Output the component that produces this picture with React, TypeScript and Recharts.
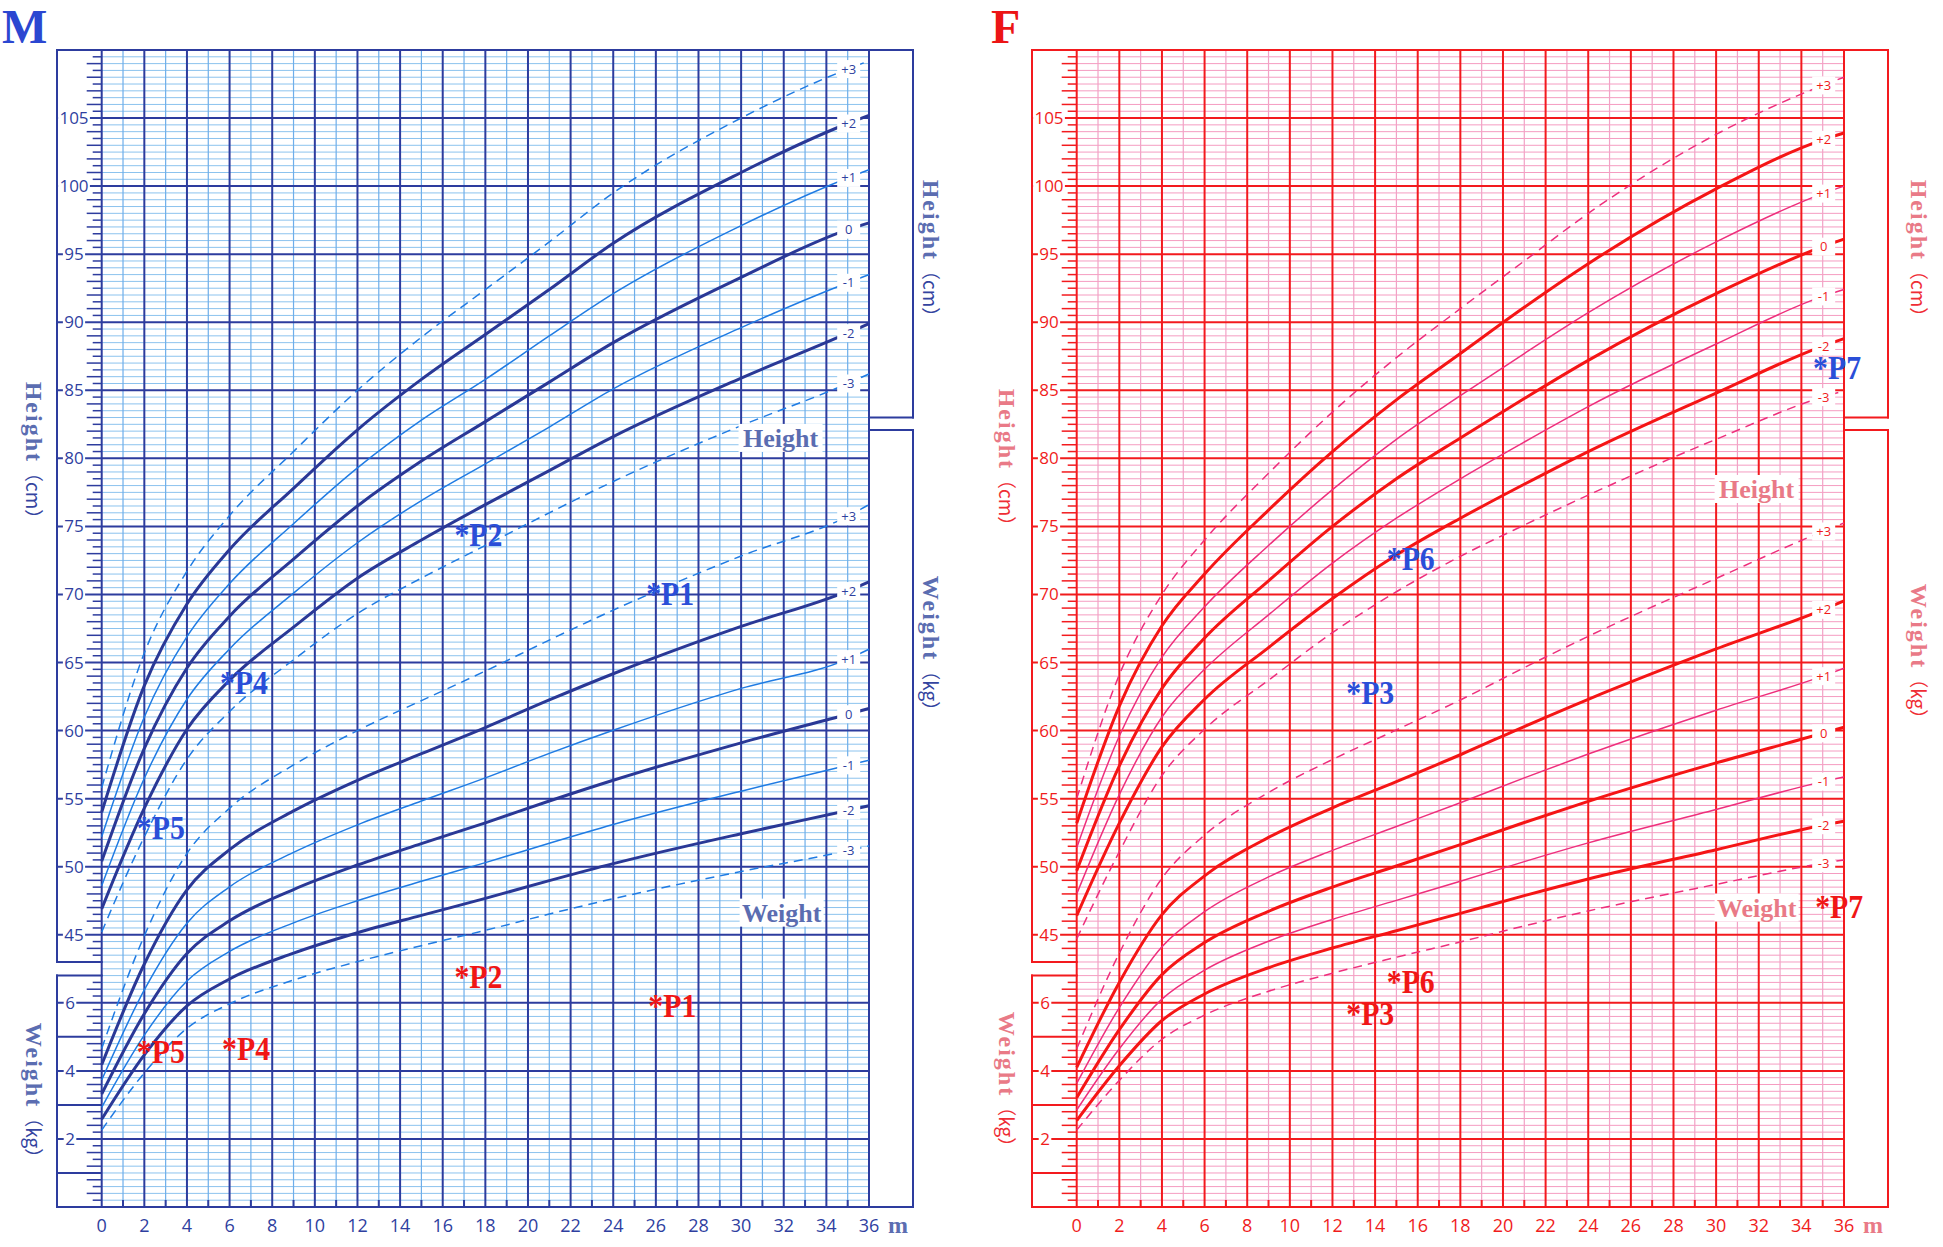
import React from 'react';
import { ComposedChart, Line, XAxis, YAxis, CartesianGrid, ReferenceLine, ReferenceDot } from 'recharts';

// ---------------- data ----------------
const MONTHS = [0, 2, 4, 6, 9, 12, 15, 18, 21, 24, 30, 35, 36];
const SD_LABELS = ['-3', '-2', '-1', '0', '+1', '+2', '+3'];
const SD_LABEL_MONTH = 35;

const BOY_HEIGHT = [
  [45.2, 52.2, 57.9, 61.4, 65.2, 68.6, 71.2, 73.6, 76.0, 78.3, 82.4, 85.5, 86.2],
  [46.9, 54.3, 60.1, 63.7, 67.6, 71.2, 74.0, 76.6, 79.1, 81.6, 85.9, 89.2, 89.9],
  [48.6, 56.5, 62.3, 66.0, 70.1, 73.8, 76.9, 79.6, 82.3, 85.1, 89.6, 92.9, 93.5],
  [50.4, 58.7, 64.6, 68.4, 72.6, 76.5, 79.8, 82.7, 85.6, 88.5, 93.3, 96.8, 97.3],
  [52.2, 61.0, 66.9, 70.8, 75.2, 79.3, 82.8, 85.8, 89.0, 92.1, 97.1, 100.6, 101.2],
  [54.0, 63.3, 69.3, 73.3, 77.8, 82.1, 85.8, 89.1, 92.4, 95.8, 101.0, 104.6, 105.2],
  [55.8, 65.7, 71.7, 75.8, 80.5, 85.0, 88.9, 92.4, 95.9, 99.5, 105.0, 108.6, 109.2],
];
const BOY_WEIGHT = [
  [2.26, 3.94, 5.25, 5.97, 6.67, 7.21, 7.68, 8.13, 8.61, 9.06, 9.86, 10.47, 10.61],
  [2.58, 4.47, 5.91, 6.70, 7.46, 8.06, 8.57, 9.07, 9.59, 10.09, 10.97, 11.65, 11.79],
  [2.93, 5.05, 6.64, 7.51, 8.35, 9.00, 9.57, 10.12, 10.69, 11.24, 12.22, 12.98, 13.13],
  [3.32, 5.68, 7.45, 8.41, 9.33, 10.05, 10.68, 11.29, 11.93, 12.54, 13.64, 14.48, 14.65],
  [3.73, 6.38, 8.34, 9.41, 10.42, 11.23, 11.93, 12.61, 13.33, 14.01, 15.24, 16.10, 16.39],
  [4.18, 7.14, 9.32, 10.50, 11.64, 12.54, 13.32, 14.09, 14.90, 15.67, 17.06, 18.10, 18.37],
  [4.66, 7.97, 10.39, 11.72, 12.99, 14.00, 14.88, 15.75, 16.66, 17.54, 19.13, 20.30, 20.64],
];
const GIRL_HEIGHT = [
  [44.7, 51.1, 56.7, 60.1, 63.7, 67.2, 70.2, 72.8, 75.1, 77.3, 81.4, 84.5, 84.95],
  [46.4, 53.2, 58.8, 62.3, 66.1, 69.7, 72.9, 75.6, 78.1, 80.5, 84.8, 88.25, 88.8],
  [48.0, 55.3, 61.0, 64.5, 68.5, 72.3, 75.6, 78.5, 81.2, 83.8, 88.4, 91.9, 92.4],
  [49.7, 57.4, 63.1, 66.8, 71.0, 75.0, 78.5, 81.5, 84.4, 87.2, 92.1, 95.55, 96.1],
  [51.4, 59.6, 65.4, 69.1, 73.6, 77.7, 81.4, 84.6, 87.7, 90.7, 95.9, 99.45, 100.0],
  [53.2, 61.8, 67.7, 71.5, 76.2, 80.5, 84.3, 87.7, 91.1, 94.3, 99.8, 103.4, 103.9],
  [55.0, 64.1, 70.0, 74.0, 78.9, 83.4, 87.4, 91.0, 94.5, 98.0, 103.8, 107.4, 108.0],
];
const GIRL_WEIGHT = [
  [2.26, 3.72, 4.93, 5.64, 6.34, 6.87, 7.34, 7.79, 8.26, 8.70, 9.48, 10.10, 10.20],
  [2.54, 4.15, 5.48, 6.26, 7.03, 7.61, 8.12, 8.63, 9.15, 9.64, 10.50, 11.22, 11.34],
  [2.85, 4.65, 6.11, 6.96, 7.81, 8.45, 9.01, 9.57, 10.15, 10.70, 11.68, 12.50, 12.64],
  [3.21, 5.21, 6.83, 7.77, 8.69, 9.40, 10.02, 10.65, 11.30, 11.92, 13.05, 13.92, 14.10],
  [3.63, 5.86, 7.65, 8.68, 9.70, 10.48, 11.18, 11.88, 12.61, 13.31, 14.60, 15.60, 15.83],
  [4.10, 6.60, 8.59, 9.73, 10.86, 11.73, 12.50, 13.29, 14.12, 14.92, 16.40, 17.55, 17.81],
  [4.65, 7.46, 9.66, 10.93, 12.18, 13.15, 14.02, 14.90, 15.85, 16.77, 18.47, 19.85, 20.10],
];

const BOY_HEIGHT_POINTS = [
  { name: 'P5', month: 2.0, value: 53.2 },
  { name: 'P4', month: 5.9, value: 63.9 },
  { name: 'P2', month: 16.9, value: 74.7 },
  { name: 'P1', month: 25.9, value: 70.4 },
];
const BOY_WEIGHT_POINTS = [
  { name: 'P5', month: 2.0, value: 4.7 },
  { name: 'P4', month: 6.0, value: 4.8 },
  { name: 'P2', month: 16.9, value: 6.9 },
  { name: 'P1', month: 26.0, value: 6.04 },
];
const GIRL_HEIGHT_POINTS = [
  { name: 'P3', month: 13.0, value: 63.1 },
  { name: 'P6', month: 14.9, value: 73.0 },
  { name: 'P7', month: 34.9, value: 87.0 },
];
const GIRL_WEIGHT_POINTS = [
  { name: 'P3', month: 13.0, value: 5.83 },
  { name: 'P6', month: 14.9, value: 6.77 },
  { name: 'P7', month: 35.0, value: 8.96 },
];

const MONTH_TICKS = Array.from({ length: 37 }, (_, i) => i);
const HEIGHT_LABELS_LEFT = [45, 50, 55, 60, 65, 70, 75, 80, 85, 90, 95, 100, 105];
const HEIGHT_LABELS_RIGHT = [85, 90, 95, 100, 105];
const WEIGHT_LABELS_LEFT = [2, 4, 6];
const WEIGHT_LABELS_RIGHT = [2, 4, 6, 8, 10, 12, 14, 16, 18, 20, 22];

// ---------------- layout ----------------
const PANEL_W = 968;
const PANEL_H = 1247;
const AXIS_H = 40;
const LEFT_AXIS_W = 44.7;
const RIGHT_AXIS_W = 44;
const MARGIN = { top: 10, right: PANEL_W - 869 - RIGHT_AXIS_W, bottom: 0, left: 57 };
const PLOT_LEFT = MARGIN.left + LEFT_AXIS_W;
const PLOT_RIGHT = PANEL_W - MARGIN.right - RIGHT_AXIS_W;
const PX_PER_MONTH = (PLOT_RIGHT - PLOT_LEFT) / 36;
const BOX_L = -LEFT_AXIS_W / PX_PER_MONTH;
const BOX_R = 36 + RIGHT_AXIS_W / PX_PER_MONTH;
const W_MAX = 34;
const LEFT_H_BOTTOM = 7.2;
const LEFT_W_TOP = 6.8;
const RIGHT_H_BOTTOM = 23.2;
const RIGHT_W_TOP = 22.83;

// grid positions in weight units (0.2 kg = 0.5 cm)
const STEPS = Array.from({ length: 169 }, (_, i) => i + 1);
const MINOR_Y = STEPS.filter((k) => k % 10 !== 0).map((k) => k / 5);
const MAJOR_Y = STEPS.filter((k) => k % 10 === 0).map((k) => k / 5);
const ODD_MONTHS = MONTH_TICKS.filter((m) => m % 2 === 1);
const EVEN_MONTHS = MONTH_TICKS.filter((m) => m % 2 === 0);
const LEFT_TICKS = STEPS.filter((k) => k <= 33 || k >= 37).map((k) => k / 5);
const RIGHT_TICKS = STEPS.filter((k) => k <= 113 || k >= 117).map((k) => k / 5);

type Theme = {
  major: string; minorH: string; minorV: string; thick: string; thin: string;
  text: string; word: string; unit: string; letter: string;
};
const BOY_THEME: Theme = {
  major: '#2d3c9e', minorH: '#8cc3ee', minorV: '#6eaeea', thick: '#2a3896', thin: '#1f7be3',
  text: '#2f3f9f', word: '#5b6db1', unit: '#34449f', letter: '#2b47d1',
};
const GIRL_THEME: Theme = {
  major: '#f31a1e', minorH: '#f59cc1', minorV: '#f2a2c6', thick: '#f51515', thin: '#ee2f7c',
  text: '#f01c1c', word: '#e97a87', unit: '#ef2d35', letter: '#ec1515',
};
const BLUE_MARK = '#2a4ed8';
const RED_MARK = '#f01616';
const SANS = "'Open Sans', 'DejaVu Sans', sans-serif";
const SERIF = "'Liberation Serif', 'DejaVu Serif', serif";

function boxLabel(x1: number, x2: number, y: number, text: string, tx: number, color: string) {
  const w = text.length * 9.6 + 3;
  return (
    <g>
      <line x1={x1} x2={x2} y1={y} y2={y} stroke={color} strokeWidth={2} />
      <rect x={tx - w / 2} y={y - 9} width={w} height={18} fill="#fff" />
      <text x={tx} y={y + 6} textAnchor="middle" fontFamily={SANS} fontSize={17} fill={color}>{text}</text>
    </g>
  );
}

const makeLeftTick = (t: Theme) => (props: any) => {
  const { y, payload } = props;
  const x = PLOT_LEFT;
  const k = Math.round(payload.value * 5);
  const boxL = x - LEFT_AXIS_W;
  if (k >= 37) {
    const h = 25 + k / 2;
    if (HEIGHT_LABELS_LEFT.includes(h)) return boxLabel(boxL, x, y, String(h), boxL + 17, t.text);
    const len = k % 2 === 0 ? 15 : 9;
    return <line x1={x - len} x2={x} y1={y} y2={y} stroke={t.major} strokeWidth={1.5} />;
  }
  const w = k / 5;
  if (WEIGHT_LABELS_LEFT.includes(w)) return boxLabel(boxL, x, y, String(w), boxL + 13, t.text);
  if (k % 5 === 0) return <line x1={boxL} x2={x} y1={y} y2={y} stroke={t.major} strokeWidth={2} />;
  const len = k % 2 === 0 ? 15 : 9;
  return <line x1={x - len} x2={x} y1={y} y2={y} stroke={t.major} strokeWidth={1.5} />;
};

const makeRightTick = (t: Theme) => (props: any) => {
  const { y, payload } = props;
  const x = PLOT_RIGHT;
  const k = Math.round(payload.value * 5);
  const boxR = x + RIGHT_AXIS_W;
  if (k >= 117) {
    const h = 25 + k / 2;
    if (HEIGHT_LABELS_RIGHT.includes(h)) return boxLabel(x, boxR, y, String(h), x + 25, t.text);
    const len = k % 2 === 0 ? 15 : 8;
    return <line x1={x} x2={x + len} y1={y} y2={y} stroke={t.major} strokeWidth={1.5} />;
  }
  const w = k / 5;
  if (WEIGHT_LABELS_RIGHT.includes(w)) return boxLabel(x, boxR, y, String(w), x + 25, t.text);
  if (k % 5 === 0) return <line x1={x} x2={boxR} y1={y} y2={y} stroke={t.major} strokeWidth={2} />;
  const len = k % 2 === 0 ? 15 : 8;
  return <line x1={x} x2={x + len} y1={y} y2={y} stroke={t.major} strokeWidth={1.5} />;
};

const makeTopTick = (t: Theme) => (props: any) => {
  const { x, y, payload } = props;
  const v = payload.value;
  if (v % 2 === 1) return <line x1={x} x2={x} y1={y} y2={y + 7} stroke={t.major} strokeWidth={2} />;
  return (
    <g>
      <text x={x} y={y - 11} textAnchor="middle" fontFamily={SANS} fontSize={18} fill={t.text}>{v}</text>
      {v === 36 && (
        <text x={x + 29} y={y - 12} textAnchor="middle" fontFamily={SERIF} fontWeight="bold" fontSize={24} fill={t.word}>m</text>
      )}
    </g>
  );
};

const makeBottomTick = (t: Theme) => (props: any) => {
  const { x, y, payload } = props;
  const v = payload.value;
  if (v % 2 === 1) return <line x1={x} x2={x} y1={y} y2={y - 7} stroke={t.major} strokeWidth={2} />;
  return (
    <g>
      <text x={x} y={y + 25} textAnchor="middle" fontFamily={SANS} fontSize={18} fill={t.text}>{v}</text>
      {v === 36 && (
        <text x={x + 29} y={y + 26} textAnchor="middle" fontFamily={SERIF} fontWeight="bold" fontSize={24} fill={t.word}>m</text>
      )}
    </g>
  );
};

const sdLabel = (sd: string, color: string, vals: number[]) => (props: any) => {
  const idx = props.index;
  const at = MONTHS.indexOf(SD_LABEL_MONTH);
  const hit = idx !== undefined ? idx === at : props.value === vals[at];
  if (!hit) return null;
  const x = props.x ?? props.viewBox?.x;
  const y = props.y ?? props.viewBox?.y;
  return (
    <g>
      <rect x={x - 10.5} y={y - 9} width={23} height={18} fill="#fff" />
      <text x={x + 1} y={y + 4.5} textAnchor="middle" fontFamily={SANS} fontSize={13} fill={color}>{sd}</text>
    </g>
  );
};

const pointDot = (color: string) => (props: any) => {
  const { cx, cy, payload, index } = props;
  if (cx == null || cy == null) return <g key={`pd-${index}`} />;
  return (
    <text key={`pd-${index}`} x={cx - 7.5} y={cy + 16} fontFamily={SERIF} fontWeight="bold" fontSize={33}
      textLength={48} lengthAdjust="spacingAndGlyphs" fill={color}>
      {'*' + payload.name}
    </text>
  );
};

const wordShape = (text: string, color: string) => (p: any) => (
  <g>
    <rect x={p.cx - 42} y={p.cy - 14} width={84} height={28} fill="#fff" />
    <text x={p.cx} y={p.cy + 9} textAnchor="middle" fontFamily={SERIF} fontWeight="bold" fontSize={26} fill={color}>{text}</text>
  </g>
);

const rows = (vals: number[]) => MONTHS.map((m, i) => ({ m, v: vals[i] }));

const FRAME: [number, number, number, number][] = [
  [BOX_L, LEFT_H_BOTTOM, BOX_L, W_MAX],
  [BOX_L, LEFT_H_BOTTOM, 0, LEFT_H_BOTTOM],
  [BOX_L, 0, BOX_L, LEFT_W_TOP],
  [BOX_L, LEFT_W_TOP, 0, LEFT_W_TOP],
  [BOX_L, W_MAX, BOX_R, W_MAX],
  [BOX_L, 0, BOX_R, 0],
  [BOX_R, RIGHT_H_BOTTOM, BOX_R, W_MAX],
  [36, RIGHT_H_BOTTOM, BOX_R, RIGHT_H_BOTTOM],
  [BOX_R, 0, BOX_R, RIGHT_W_TOP],
  [36, RIGHT_W_TOP, BOX_R, RIGHT_W_TOP],
];

type PanelProps = {
  theme: Theme;
  heights: number[][];
  weights: number[][];
  heightPts: { name: string; month: number; value: number }[];
  weightPts: { name: string; month: number; value: number }[];
  heightWordAt: [number, number];
  weightWordAt: [number, number];
};

function GrowthPanel({ theme, heights, weights, heightPts, weightPts, heightWordAt, weightWordAt }: PanelProps) {
  const lineStyle = (i: number) => {
    const sd = SD_LABELS[i];
    if (sd === '0' || sd === '-2' || sd === '+2') return { stroke: theme.thick, strokeWidth: 3 };
    if (sd === '-1' || sd === '+1') return { stroke: theme.thin, strokeWidth: 1.5 };
    return { stroke: theme.thin, strokeWidth: 1.5, strokeDasharray: '9 6' };
  };
  return (
    <ComposedChart width={PANEL_W} height={PANEL_H} margin={MARGIN}>
      <XAxis xAxisId="t" orientation="top" type="number" dataKey="m" domain={[0, 36]} ticks={MONTH_TICKS}
        interval={0} height={AXIS_H} tick={makeTopTick(theme)} tickLine={false} axisLine={false}
        tickSize={0} tickMargin={0} />
      <XAxis xAxisId="b" orientation="bottom" type="number" dataKey="m" domain={[0, 36]} ticks={MONTH_TICKS}
        interval={0} height={AXIS_H} tick={makeBottomTick(theme)} tickLine={false} axisLine={false}
        tickSize={0} tickMargin={0} />
      <YAxis yAxisId="L" orientation="left" type="number" domain={[0, W_MAX]} width={LEFT_AXIS_W}
        ticks={LEFT_TICKS} interval={0} tick={makeLeftTick(theme)} tickLine={false} axisLine={false}
        tickSize={0} tickMargin={0} />
      <YAxis yAxisId="R" orientation="right" type="number" domain={[0, W_MAX]} width={RIGHT_AXIS_W}
        ticks={RIGHT_TICKS} interval={0} tick={makeRightTick(theme)} tickLine={false} axisLine={false}
        tickSize={0} tickMargin={0} />
      <YAxis yAxisId="H" type="number" domain={[25, 110]} hide />

      <CartesianGrid xAxisId="b" yAxisId="L" horizontal vertical={false} horizontalValues={MINOR_Y}
        stroke={theme.minorH} strokeWidth={1} />
      <CartesianGrid xAxisId="b" yAxisId="L" horizontal={false} vertical verticalValues={ODD_MONTHS}
        stroke={theme.minorV} strokeWidth={1.2} />
      <CartesianGrid xAxisId="b" yAxisId="L" horizontal vertical={false} horizontalValues={MAJOR_Y}
        stroke={theme.major} strokeWidth={2} />
      <CartesianGrid xAxisId="b" yAxisId="L" horizontal={false} vertical verticalValues={EVEN_MONTHS}
        stroke={theme.major} strokeWidth={2} />

      {FRAME.map(([x1, y1, x2, y2], i) => (
        <ReferenceLine key={`fr-${i}`} xAxisId="b" yAxisId="L" ifOverflow="visible"
          segment={[{ x: x1, y: y1 }, { x: x2, y: y2 }]} stroke={theme.major} strokeWidth={2}
          strokeLinecap="square" />
      ))}

      {heights.map((vals, i) => (
        <Line key={`h-${i}`} xAxisId="b" yAxisId="H" data={rows(vals)} dataKey="v" type="monotone"
          {...lineStyle(i)} dot={false} activeDot={false} isAnimationActive={false}
          label={sdLabel(SD_LABELS[i], theme.text, vals)} />
      ))}
      {weights.map((vals, i) => (
        <Line key={`w-${i}`} xAxisId="b" yAxisId="L" data={rows(vals)} dataKey="v" type="monotone"
          {...lineStyle(i)} dot={false} activeDot={false} isAnimationActive={false}
          label={sdLabel(SD_LABELS[i], theme.text, vals)} />
      ))}

      <ReferenceDot xAxisId="b" yAxisId="L" x={heightWordAt[0]} y={heightWordAt[1]} r={0} ifOverflow="visible"
        shape={wordShape('Height', theme.word)} />
      <ReferenceDot xAxisId="b" yAxisId="L" x={weightWordAt[0]} y={weightWordAt[1]} r={0} ifOverflow="visible"
        shape={wordShape('Weight', theme.word)} />

      <Line xAxisId="b" yAxisId="H" data={heightPts.map((p) => ({ m: p.month, v: p.value, name: p.name }))}
        dataKey="v" stroke="none" dot={pointDot(BLUE_MARK)} activeDot={false} isAnimationActive={false} />
      <Line xAxisId="b" yAxisId="L" data={weightPts.map((p) => ({ m: p.month, v: p.value, name: p.name }))}
        dataKey="v" stroke="none" dot={pointDot(RED_MARK)} activeDot={false} isAnimationActive={false} />
    </ComposedChart>
  );
}

function AxisTitle({ cx, cy, word, unit, theme }: { cx: number; cy: number; word: string; unit: string; theme: Theme }) {
  return (
    <div style={{
      position: 'absolute', left: cx + 3, top: cy, transform: 'translate(-50%, -50%) rotate(90deg)',
      whiteSpace: 'nowrap', lineHeight: 1,
    }}>
      <span style={{ fontFamily: SERIF, fontWeight: 700, fontSize: 24, letterSpacing: 2, color: theme.word }}>{word}</span>
      <span style={{ fontFamily: "'Noto Sans CJK SC', sans-serif", fontSize: 19, color: theme.unit }}>（{unit}）</span>
    </div>
  );
}

function Letter({ left, text, color }: { left: number; text: string; color: string }) {
  return (
    <div style={{
      position: 'absolute', left, top: 0, fontFamily: SERIF, fontWeight: 700, fontSize: 48,
      lineHeight: '54px', height: 54, color,
    }}>{text}</div>
  );
}

export default function App() {
  return (
    <div style={{ position: 'absolute', left: 0, top: 0, width: 1943, height: 1247, overflow: 'hidden', background: '#fff' }}>
      <div style={{ position: 'absolute', left: 0, top: 0 }}>
        <GrowthPanel theme={BOY_THEME} heights={BOY_HEIGHT} weights={BOY_WEIGHT}
          heightPts={BOY_HEIGHT_POINTS} weightPts={BOY_WEIGHT_POINTS}
          heightWordAt={[31.85, 22.6]} weightWordAt={[31.9, 8.65]} />
      </div>
      <div style={{ position: 'absolute', left: 975, top: 0 }}>
        <GrowthPanel theme={GIRL_THEME} heights={GIRL_HEIGHT} weights={GIRL_WEIGHT}
          heightPts={GIRL_HEIGHT_POINTS} weightPts={GIRL_WEIGHT_POINTS}
          heightWordAt={[31.9, 21.1]} weightWordAt={[31.9, 8.8]} />
      </div>

      <Letter left={2} text="M" color={BOY_THEME.letter} />
      <Letter left={991} text="F" color={GIRL_THEME.letter} />

      <AxisTitle cx={31} cy={455} word="Height" unit="cm" theme={BOY_THEME} />
      <AxisTitle cx={31} cy={1095} word="Weight" unit="kg" theme={BOY_THEME} />
      <AxisTitle cx={928} cy={253} word="Height" unit="cm" theme={BOY_THEME} />
      <AxisTitle cx={928} cy={648} word="Weight" unit="kg" theme={BOY_THEME} />

      <AxisTitle cx={1004} cy={462} word="Height" unit="cm" theme={GIRL_THEME} />
      <AxisTitle cx={1004} cy={1084} word="Weight" unit="kg" theme={GIRL_THEME} />
      <AxisTitle cx={1916} cy={253} word="Height" unit="cm" theme={GIRL_THEME} />
      <AxisTitle cx={1916} cy={656} word="Weight" unit="kg" theme={GIRL_THEME} />
    </div>
  );
}
